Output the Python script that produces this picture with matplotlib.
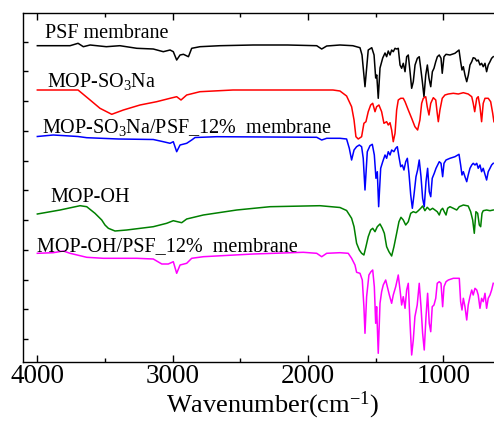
import matplotlib
matplotlib.use("Agg")
import matplotlib.pyplot as plt
import numpy as np

plt.rcParams['font.family'] = ['Liberation Serif', 'DejaVu Serif']
plt.rcParams['mathtext.fontset'] = 'custom'
plt.rcParams['mathtext.rm'] = 'Liberation Serif'
plt.rcParams['mathtext.it'] = 'Liberation Serif:italic'
plt.rcParams['mathtext.bf'] = 'Liberation Serif:bold'

# ---- data (wavenumber cm^-1, stacked intensity in arbitrary units) ----
psf_wn = [4000, 3758, 3699, 3660, 3610, 3490, 3390, 3265, 3143, 3069, 3019, 2995, 2970, 2945, 2920,
          2883, 2859, 2798, 2650, 2404, 2150, 1935, 1898, 1861, 1763, 1668, 1615, 1600, 1578, 1554,
          1528, 1511, 1499, 1491, 1480, 1467, 1447, 1430, 1418, 1406, 1393, 1381, 1369, 1356, 1344,
          1332, 1319, 1307, 1295, 1282, 1270, 1258, 1245, 1233, 1221, 1208, 1191, 1177, 1166, 1154,
          1142, 1129, 1117, 1105, 1092, 1080, 1068, 1055, 1043, 1029, 1016, 1007, 994, 979, 950,
          913, 883, 871, 861, 851, 839, 826, 814, 802, 789, 778, 765, 752, 741, 728,
          716, 704, 691, 679, 667, 654, 642, 630]
psf_y = [316.3, 316.3, 318.7, 315.3, 317, 315.3, 316.3, 313.7, 313, 310.3, 312, 310.3, 302, 307, 307.7,
         305.3, 313.7, 315.3, 316.3, 317, 317, 316.3, 313, 316, 317, 316.3, 314.3, 307, 275.3, 312,
         314.3, 307, 284, 287, 263.7, 294, 304, 309, 305.3, 311, 307, 312, 310.3, 313.7, 313,
         313.7, 297, 293.7, 298.7, 290.3, 305.3, 307, 290.3, 273.7, 280.3, 297, 303.7, 305.3, 293.7, 280.3,
         265.3, 287, 297, 283.7, 275.3, 290.3, 293.7, 300.3, 305.3, 307, 303.7, 288.7, 305.3, 307.7, 307,
         308.7, 312, 300.3, 292, 295.3, 287, 280.3, 287, 297, 300.3, 304.3, 303.7, 301, 302, 297,
         298.7, 295.3, 298.7, 290.3, 297, 300.3, 303.7, 305.3]

so3na_wn = [4000, 3699, 3610, 3537, 3450, 3364, 3241, 3118, 3019, 2970, 2938, 2896, 2798, 2554, 1815,
            1763, 1714, 1677, 1659, 1645, 1628, 1603, 1586, 1571, 1554, 1536, 1521, 1504, 1492, 1475,
            1455, 1438, 1418, 1406, 1393, 1381, 1369, 1356, 1344, 1332, 1314, 1295, 1282, 1258, 1233,
            1209, 1189, 1172, 1159, 1147, 1129, 1118, 1105, 1092, 1073, 1055, 1044, 1036, 1024, 1007,
            987, 962, 925, 888, 851, 815, 789, 778, 767, 752, 741, 728, 716, 704, 691,
            667, 649, 634, 625]
so3na_y = [272, 272, 262, 253.7, 247.7, 252, 257, 260.3, 263.7, 265.3, 262, 267, 270.3, 272, 272,
           271, 266, 255.3, 242, 225.3, 223, 225.3, 238.7, 240.3, 250.3, 257, 258.7, 250.3, 255.3, 257,
           250.3, 238.7, 240.3, 237, 239.3, 232, 220.3, 228.7, 252, 262, 263.7, 263.7, 260.3, 252, 243.7,
           235.3, 232, 242, 258.7, 263.7, 265.3, 255.3, 247, 258.7, 264.3, 262, 248.7, 240.3, 252, 263.7,
           267, 268, 268.7, 268, 269.3, 268, 265.3, 258.7, 250.3, 263.7, 265.3, 255.3, 240.3, 258.7, 263.7,
           263.7, 260.3, 248.7, 240.3]

so3na_psf_wn = [4000, 3882, 3700, 3635, 3400, 3143, 3069, 3019, 2995, 2970, 2945, 2896, 2859, 2834, 2674,
                1935, 1898, 1861, 1763, 1714, 1694, 1677, 1659, 1640, 1620, 1603, 1591, 1578, 1561, 1541,
                1524, 1509, 1497, 1487, 1477, 1462, 1447, 1430, 1418, 1406, 1393, 1381, 1364, 1351, 1339,
                1327, 1314, 1302, 1290, 1277, 1265, 1253, 1240, 1228, 1216, 1201, 1189, 1177, 1164, 1152,
                1140, 1127, 1115, 1103, 1092, 1081, 1066, 1053, 1041, 1029, 1016, 1004, 994, 979, 950,
                913, 883, 871, 861, 851, 839, 826, 815, 802, 789, 778, 765, 752, 741, 728,
                716, 704, 679, 667, 654, 642, 630]
so3na_psf_y = [225.5, 227, 225.5, 224.3, 223, 222.5, 220.3, 218.7, 220.3, 210.3, 217, 218.7, 222, 224.5, 225.3,
               224.7, 222, 223.7, 223.7, 223, 213.7, 202, 212, 215.3, 217, 215.3, 203.7, 172, 210.3, 216.3,
               217.7, 207, 183.7, 190.3, 155.3, 193.7, 200.3, 207, 203.7, 210.3, 207, 212, 210.3, 213.7, 215.3,
               205.3, 195.3, 197, 192, 200.3, 203.7, 188.7, 167, 153.7, 167, 185.3, 192, 202, 185.3, 163.7,
               155.3, 180.3, 193.7, 170.3, 165.3, 183.7, 188.7, 193.7, 197, 200.3, 198.7, 185.3, 198.7, 202, 203.7,
               205.3, 207.7, 197, 187, 190.3, 185.3, 180.3, 187, 193.7, 197, 198.7, 197, 198.7, 193.7, 197,
               190.3, 193.7, 182, 190.3, 193.7, 197, 198.7]

oh_wn = [4000, 3832, 3684, 3635, 3574, 3524, 3500, 3475, 3426, 3339, 3143, 3044, 2995, 2933, 2896,
         2773, 2526, 2280, 1911, 1763, 1714, 1677, 1659, 1640, 1620, 1603, 1586, 1571, 1554, 1536,
         1521, 1504, 1487, 1467, 1450, 1435, 1418, 1401, 1381, 1364, 1344, 1327, 1312, 1295, 1277,
         1258, 1240, 1221, 1201, 1184, 1166, 1152, 1135, 1118, 1098, 1078, 1061, 1044, 1029, 1016,
         1004, 992, 979, 967, 950, 925, 900, 881, 851, 815, 797, 782, 770, 758, 745,
         733, 723, 713, 704, 679, 654, 630]
oh_y = [148, 152, 156.3, 155.3, 148.7, 142, 137, 133.7, 131, 132, 135.3, 138.7, 141.3, 139.3, 143,
        147, 152, 155.3, 156.3, 154.5, 151.5, 143.7, 135.3, 118.7, 112, 108.7, 107, 115.3, 125.3, 132,
        133.7, 130.3, 135.3, 138, 133.7, 128.7, 115.3, 110.3, 106, 115.3, 128.7, 140.3, 144.7, 142, 137,
        140.3, 148.7, 150.3, 149.3, 151.3, 153.7, 156, 151.3, 154.7, 152, 153.7, 152, 150.3, 147, 152,
        153.7, 150.3, 147, 153.7, 155.3, 153.7, 152, 155.3, 157, 156, 150.3, 142, 128.7, 150.3, 148.7,
        137, 135.3, 148.7, 151.3, 152, 151.3, 152]

oh_psf_wn = [4000, 3882, 3808, 3758, 3635, 3512, 3265, 3143, 3080, 3032, 2995, 2970, 2945, 2896, 2859,
             2773, 2404, 2034, 1935, 1898, 1861, 1763, 1702, 1677, 1652, 1640, 1615, 1598, 1586, 1578,
             1566, 1549, 1534, 1521, 1509, 1499, 1492, 1480, 1467, 1455, 1443, 1425, 1410, 1398, 1381,
             1369, 1351, 1332, 1319, 1307, 1295, 1282, 1270, 1258, 1245, 1233, 1221, 1209, 1192, 1177,
             1164, 1152, 1140, 1127, 1115, 1103, 1092, 1081, 1068, 1055, 1044, 1029, 1016, 1004, 994,
             979, 962, 925, 881, 871, 861, 851, 839, 826, 815, 802, 789, 778, 765, 752,
             741, 728, 716, 704, 691, 679, 667, 654, 642, 630]
oh_psf_y = [108.7, 109.3, 111, 108.7, 104.7, 103.7, 103.7, 103, 98, 98, 100.3, 88.7, 97, 98.7, 103.7,
            105.3, 108, 109.7, 108.7, 105.3, 108.7, 109.3, 108.7, 103.7, 97, 89.7, 88.7, 82, 55.3, 28.7,
            65.3, 87, 90.3, 92, 75.3, 38.7, 55.3, 8.7, 58.7, 70.3, 77, 82, 73.7, 67, 58.7,
            67, 75.3, 87, 72, 57, 65.3, 53.7, 72, 78.7, 38.7, 7, 22, 45.3, 57, 78.7,
            55.3, 28.7, 12, 45.3, 68.7, 38.7, 30.3, 55.3, 57, 63.7, 78.7, 80.3, 78.7, 55.3, 75.3,
            80.3, 82, 83.7, 83.7, 60.3, 52, 63.7, 55.3, 42, 57, 65.3, 72, 67, 73.7, 72,
            67, 53.7, 63.7, 60.3, 68.7, 53.7, 63.7, 67, 72, 78.7]

labels = ['PSF membrane', 'MOP-SO$_3$Na', 'MOP-SO$_3$Na/PSF_12%  membrane',
          'MOP-OH', 'MOP-OH/PSF_12%  membrane']
colors = ['black', 'red', 'blue', 'green', 'magenta']
# label anchor (wavenumber, intensity units) for each annotation
label_wn = [3943, 3930, 3968, 3906, 4004]
label_y = [323.5, 275, 229, 160.3, 111]

xticks = [4000, 3000, 2000, 1000]
xtick_labels = ['4000', '3000', '2000', '1000']

# ---- figure ----
fig = plt.figure(figsize=(4.94, 4.21), dpi=100)
ax = fig.add_axes([23/494, 59/421, 500/494, 349/421])

series = [(psf_wn, psf_y), (so3na_wn, so3na_y), (so3na_psf_wn, so3na_psf_y),
          (oh_wn, oh_y), (oh_psf_wn, oh_psf_y)]
for (wn, yv), c in zip(series, colors):
    ax.plot(wn, yv, color=c, lw=1.1)

for t, xw, yv in zip(labels, label_wn, label_y):
    ax.text(xw, yv, t, fontsize=14.5, ha='left', va='baseline', color='black')

ax.set_xlim(4106, 410)
ax.set_ylim(0, 349)
ax.set_xticks(xticks)
ax.set_xticklabels(xtick_labels)
ax.set_xticks([3500, 2500, 1500], minor=True)
ax.set_yticks(np.arange(23, 321, 29.75))
ax.set_yticklabels([])
ax.tick_params(axis='x', which='major', direction='in', length=5, width=1,
               labelsize=19.5, pad=1.5, top=True)
ax.tick_params(axis='x', which='minor', direction='in', length=3, width=1, top=True)
ax.tick_params(axis='y', which='major', direction='in', length=3.5, width=1, right=False)
for s in ax.spines.values():
    s.set_linewidth(1.0)

ax.set_xlabel('Wavenumber(cm$^{-1}$)', fontsize=19, va='baseline')
ax.xaxis.set_label_coords(0.5, -50.5/349)

fig.savefig('out.png', dpi=100)
